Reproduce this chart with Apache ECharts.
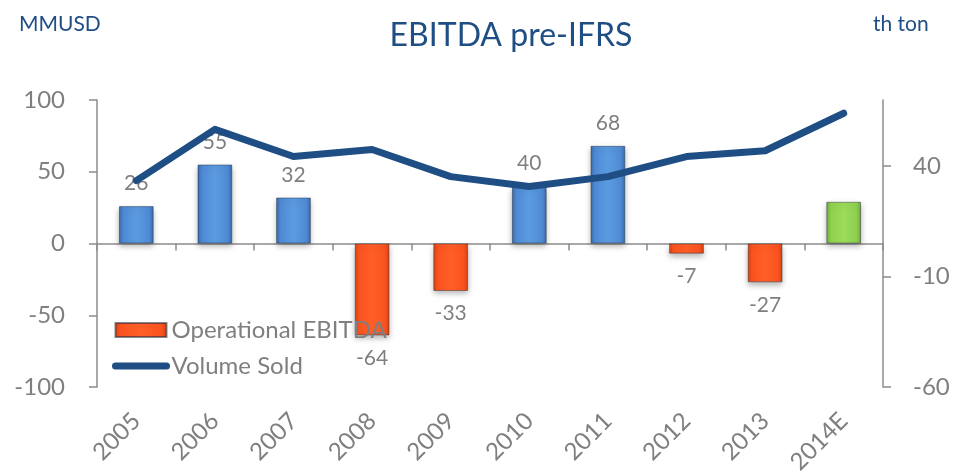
<!DOCTYPE html>
<html>
<head>
<meta charset="utf-8">
<script src="https://cdn.jsdelivr.net/npm/echarts@6/dist/echarts.min.js"></script>
<style>
  html, body { margin: 0; padding: 0; background: #fff; }
  #chart { width: 957px; height: 475px; }
</style>
</head>
<body>
<div id="chart"></div>
<script>
// data
const years = ['2005', '2006', '2007', '2008', '2009', '2010', '2011', '2012', '2013', '2014E'];
const ebitda = [26, 55, 32, -64, -33, 40, 68, -7, -27, 29];
const volumeSold = [33.5, 56.7, 44.4, 47.6, 35.3, 30.8, 35.3, 44.4, 47, 64];
const forecastIndex = 9; // 2014E shown in green without a label

const grey = '#7f7f7f';
const axisGrey = '#8c8c8c';
const navy = '#1f4e85';
const font = 'Lato, "Open Sans", sans-serif';

// bar looks bevelled, fake it with gradients
function bevel(light, mid, dark) {
  return new echarts.graphic.LinearGradient(0, 0, 1, 0, [
    { offset: 0, color: dark },
    { offset: 0.12, color: mid },
    { offset: 0.5, color: light },
    { offset: 0.88, color: mid },
    { offset: 1, color: dark }
  ]);
}
const blueFill = bevel('#5b9be0', '#4f8ad4', '#3a6aa8');
const orangeFill = bevel('#ff5f26', '#fa5320', '#d9420f');
const greenFill = bevel('#9cdb5c', '#8fd04e', '#6fa834');

const barData = ebitda.map((v, i) => {
  let fill = v >= 0 ? blueFill : orangeFill;
  if (i === forecastIndex) fill = greenFill;
  return {
    value: v,
    itemStyle: { color: fill },
    label: {
      show: i !== forecastIndex,
      position: v >= 0 ? 'top' : 'bottom'
    }
  };
});

const chart = echarts.init(document.getElementById('chart'));

chart.setOption({
  animation: false,
  textStyle: { fontFamily: font },
  title: [
    { text: 'EBITDA pre-IFRS', left: 506, top: 15, textAlign: 'center',
      textStyle: { fontSize: 32, fontWeight: 'normal', color: navy, fontFamily: font } },
    { text: 'MMUSD', left: 14, top: 9,
      textStyle: { fontSize: 21, fontWeight: 'normal', color: navy, fontFamily: font } },
    { text: 'th ton', left: 868, top: 9,
      textStyle: { fontSize: 21, fontWeight: 'normal', color: navy, fontFamily: font } }
  ],
  legend: {
    orient: 'vertical',
    left: 107,
    top: 313,
    itemWidth: 51,
    itemHeight: 14,
    itemGap: 12,
    textStyle: { fontSize: 24, color: grey, fontFamily: font },
    data: [
      { name: 'Operational EBITDA', icon: 'rect' },
      {
        name: 'Volume Sold',
        itemStyle: { opacity: 0 },
        lineStyle: { width: 7, cap: 'round', color: navy }
      }
    ]
  },
  grid: { left: 97, right: 74, top: 100, bottom: 88, outerBoundsMode: 'none' },
  xAxis: [
    {
      type: 'category',
      data: years,
      axisLine: { show: false, onZero: false },
      axisTick: { show: false },
      axisLabel: { rotate: 45, fontSize: 24, color: grey, margin: 30, fontFamily: font }
    },
    {
      type: 'category',
      data: years,
      position: 'bottom',
      axisLine: { onZero: true, onZeroAxisIndex: 0, lineStyle: { color: axisGrey, width: 1.5 } },
      axisTick: { show: true, length: 7, lineStyle: { color: axisGrey, width: 1.5 } },
      axisLabel: { show: false }
    }
  ],
  yAxis: [
    {
      type: 'value',
      min: -100, max: 100, interval: 50,
      axisLine: { show: true, lineStyle: { color: axisGrey, width: 1.5 } },
      axisTick: { show: true, length: 8, lineStyle: { color: axisGrey, width: 1.5 } },
      axisLabel: { fontSize: 24, color: grey, margin: 32, fontFamily: font },
      splitLine: { show: false }
    },
    {
      type: 'value',
      min: -60, max: 70, interval: 50,
      position: 'right',
      axisLine: { show: true, lineStyle: { color: axisGrey, width: 1.5 } },
      axisTick: { show: true, length: 8, lineStyle: { color: axisGrey, width: 1.5 } },
      axisLabel: { fontSize: 24, color: grey, margin: 30, showMaxLabel: false, fontFamily: font },
      splitLine: { show: false }
    }
  ],
  series: [
    {
      name: 'Operational EBITDA',
      type: 'bar',
      xAxisIndex: 0,
      yAxisIndex: 0,
      barWidth: '44%',
      data: barData,
      itemStyle: {
        color: orangeFill,
        borderColor: 'rgba(30,40,60,0.55)',
        borderWidth: 0.8,
        shadowColor: 'rgba(0,0,0,0.3)',
        shadowBlur: 6,
        shadowOffsetY: 3
      },
      label: { fontSize: 21, color: grey, distance: 12, fontFamily: font },
      z: 2
    },
    {
      name: 'Volume Sold',
      type: 'line',
      xAxisIndex: 0,
      yAxisIndex: 1,
      data: volumeSold,
      showSymbol: false,
      symbol: 'none',
      lineStyle: { color: navy, width: 7, cap: 'round', join: 'round' },
      itemStyle: { color: navy },
      z: 3
    }
  ]
});
</script>
</body>
</html>
